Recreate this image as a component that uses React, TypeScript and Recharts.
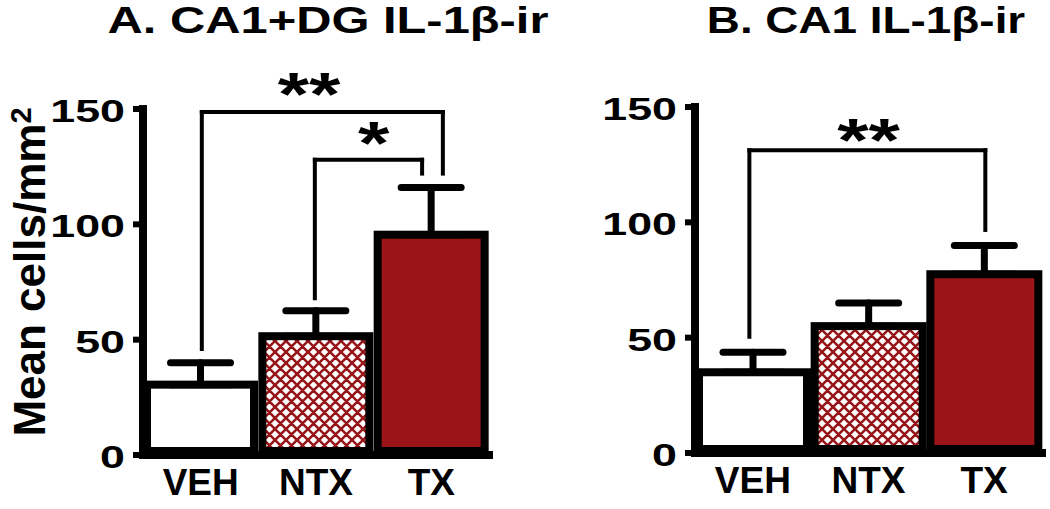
import React from "react";
import {
  BarChart,
  Bar,
  XAxis,
  YAxis,
  ErrorBar,
  ReferenceLine,
  ReferenceDot,
} from "recharts";

const groups = ["VEH", "NTX", "TX"];
const groupPos = [0.5, 1.5, 2.5];
const meansA = [30.5, 51.5, 95.5];
const semA = [9.5, 11, 20.5];
const meansB = [35, 55, 77.5];
const semB = [8.7, 10, 12.5];
const yTicks = [0, 50, 100, 150];
const fills = ["#ffffff", "url(#ntxHatch)", "#9b1418"];

// significance brackets, x on a hidden numeric axis where bar i sits at i + 0.5
const bracketsA = [
  { x1: 0.51, y1: 46, x2: 2.6, y2: 122, top: 148.7 },
  { x1: 1.49, y1: 68, x2: 2.42, y2: 122, top: 128 },
];
const starsA = [
  { x: 1.44, y: 147.5, text: "**" },
  { x: 2.0, y: 126, text: "*" },
];
const bracketsB = [{ x1: 0.47, y1: 50.4, x2: 2.51, y2: 96.7, top: 131.3 }];
const starsB = [{ x: 1.5, y: 126.5, text: "**" }];

const FONT = '"Liberation Sans", Arial, Helvetica, sans-serif';

const BarShape = (props: any) => {
  const { x, y, width, height, payload } = props;
  const i = groups.indexOf(payload.group);
  return (
    <rect
      x={x + 4}
      y={y}
      width={width - 8}
      height={height - 4}
      fill={fills[i]}
      stroke="#000"
      strokeWidth={8}
    />
  );
};

const YTick = (props: any) => {
  const { x, y, payload } = props;
  return (
    <text
      x={0}
      y={0}
      transform={`translate(${x},${y + 13}) scale(1.4,1)`}
      textAnchor="end"
      fontSize={32}
      fontWeight="bold"
      fontFamily={FONT}
      fill="#000"
    >
      {payload.value}
    </text>
  );
};

const XTick = (props: any) => {
  const { x, y, payload } = props;
  return (
    <text
      x={x}
      y={y + 40}
      textAnchor="middle"
      fontSize={37}
      fontWeight="bold"
      fontFamily={FONT}
      fill="#000"
    >
      {payload.value}
    </text>
  );
};

const starShape = (text: string) => (props: any) => (
  <text
    x={0}
    y={0}
    transform={`translate(${props.cx},${props.cy}) scale(1.3,1)`}
    textAnchor="middle"
    fontSize={62}
    fontWeight="bold"
    fontFamily={FONT}
    fill="#000"
  >
    {text}
  </text>
);

interface PanelProps {
  means: number[];
  sem: number[];
  brackets: { x1: number; y1: number; x2: number; y2: number; top: number }[];
  stars: { x: number; y: number; text: string }[];
  yAxisWidth: number;
  top: number;
  right: number;
  xAxisHeight: number;
}

function Panel({ means, sem, brackets, stars, yAxisWidth, top, right, xAxisHeight }: PanelProps) {
  const data = groups.map((g, i) => ({
    group: g,
    pos: groupPos[i],
    mean: means[i],
    err: [0, sem[i]],
  }));
  const line = { stroke: "#000", strokeWidth: 4, strokeLinecap: "square" as const };
  return (
    <BarChart
      width={525}
      height={509}
      data={data}
      margin={{ top, right, bottom: 0, left: 0 }}
      barCategoryGap={0}
      barGap={0}
    >
      <XAxis
        dataKey="group"
        height={xAxisHeight}
        tickLine={false}
        tickSize={0}
        tickMargin={0}
        axisLine={{ stroke: "#000", strokeWidth: 8, strokeLinecap: "square" }}
        tick={<XTick />}
        interval={0}
      />
      <XAxis
        xAxisId="n"
        dataKey="pos"
        type="number"
        domain={[0, 3]}
        allowDataOverflow
        hide
      />
      <YAxis
        width={yAxisWidth}
        domain={[0, 150]}
        ticks={yTicks}
        interval={0}
        tickSize={10}
        tickMargin={8}
        tickLine={{ stroke: "#000", strokeWidth: 6 }}
        axisLine={{ stroke: "#000", strokeWidth: 8, strokeLinecap: "square" }}
        tick={<YTick />}
      />
      <Bar dataKey="mean" shape={<BarShape />} isAnimationActive={false}>
        <ErrorBar
          dataKey="err"
          direction="y"
          width={30}
          stroke="#000"
          strokeWidth={7}
          strokeLinecap="round"
          isAnimationActive={false}
        />
      </Bar>
      {brackets.map((b, i) => (
        <ReferenceLine
          key={`l${i}`}
          xAxisId="n"
          segment={[{ x: b.x1, y: b.y1 }, { x: b.x1, y: b.top }]}
          {...line}
        />
      ))}
      {brackets.map((b, i) => (
        <ReferenceLine
          key={`t${i}`}
          xAxisId="n"
          segment={[{ x: b.x1, y: b.top }, { x: b.x2, y: b.top }]}
          {...line}
        />
      ))}
      {brackets.map((b, i) => (
        <ReferenceLine
          key={`r${i}`}
          xAxisId="n"
          segment={[{ x: b.x2, y: b.top }, { x: b.x2, y: b.y2 }]}
          {...line}
        />
      ))}
      {stars.map((s, i) => (
        <ReferenceDot
          key={`s${i}`}
          xAxisId="n"
          x={s.x}
          y={s.y}
          r={0}
          shape={starShape(s.text)}
        />
      ))}
    </BarChart>
  );
}

export default function App() {
  return (
    <div style={{ position: "absolute", left: 0, top: 0, width: 1050, height: 509, background: "#fff" }}>
      <svg width={0} height={0} style={{ position: "absolute" }}>
        <defs>
          <pattern id="ntxHatch" patternUnits="userSpaceOnUse" width={11} height={11}>
            <rect width={11} height={11} fill="#fff" />
            <path
              d="M-1,1 l2,-2 M0,11 l11,-11 M10,12 l2,-2 M-1,10 l2,2 M0,0 l11,11 M10,-1 l2,2"
              stroke="#961519"
              strokeWidth={2.6}
            />
          </pattern>
        </defs>
      </svg>
      <div style={{ position: "absolute", left: 0, top: 0 }}>
        <Panel means={meansA} sem={semA} brackets={bracketsA} stars={starsA}
          yAxisWidth={143} top={109} right={36} xAxisHeight={54} />
      </div>
      <div style={{ position: "absolute", left: 525, top: 0 }}>
        <Panel means={meansB} sem={semB} brackets={bracketsB} stars={starsB}
          yAxisWidth={170} top={107} right={8} xAxisHeight={56} />
      </div>
      <svg width={1050} height={509} style={{ position: "absolute", left: 0, top: 0, pointerEvents: "none" }}>
        <text x={0} y={0} transform="translate(328,33) scale(1.32,1)" textAnchor="middle"
          fontSize={37} fontWeight="bold" fontFamily={FONT}>
          A. CA1+DG IL-1β-ir
        </text>
        <text x={0} y={0} transform="translate(866,33) scale(1.24,1)" textAnchor="middle"
          fontSize={37} fontWeight="bold" fontFamily={FONT}>
          B. CA1 IL-1β-ir
        </text>
        <text x={0} y={0} transform="translate(45,272) rotate(-90)" textAnchor="middle"
          fontSize={44} fontWeight="bold" fontFamily={FONT}>
          Mean cells/mm<tspan fontSize={29} dy={-14}>2</tspan>
        </text>
      </svg>
    </div>
  );
}
